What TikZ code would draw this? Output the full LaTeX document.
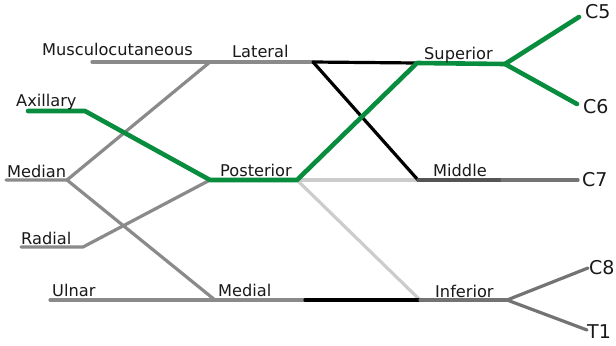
\documentclass[tikz,border=0pt]{standalone}
\usepackage{fontspec}
\setmainfont{DejaVu Sans}
\definecolor{nerve}{RGB}{138,138,138}
\definecolor{pale}{RGB}{204,204,204}
\definecolor{dk}{RGB}{85,85,85}
\definecolor{mid}{RGB}{115,115,115}
\definecolor{grn}{RGB}{8,140,62}
\definecolor{txt}{RGB}{25,25,25}
\begin{document}
\begin{tikzpicture}[x=1bp,y=-1bp,
  line cap=round, line join=round,
  gline/.style={draw=nerve, line width=3.2bp},
  pline/.style={draw=pale, line width=3.2bp},
  bline/.style={draw=black, line width=3.2bp},
  dline/.style={draw=dk, line width=3.2bp},
  mline/.style={draw=mid, line width=3.2bp},
  green/.style={draw=grn, line width=4.6bp},
  lbl/.style={anchor=base west, inner sep=0pt, text=txt, font=\fontsize{16.2bp}{19bp}\selectfont},
  root/.style={anchor=base west, inner sep=0pt, text=txt, font=\fontsize{19bp}{22bp}\selectfont}]
\useasboundingbox[fill=white] (0,0) rectangle (616,345);

% points
\coordinate (musc) at (92,62);
\coordinate (lat) at (210,62);
\coordinate (latE) at (313,62);
\coordinate (sup) at (417,63);
\coordinate (supE) at (505,64);
\coordinate (c5) at (579,17);
\coordinate (c6) at (577,104);
\coordinate (axS) at (28,111);
\coordinate (axB) at (85,111);
\coordinate (medS) at (6,180);
\coordinate (medB) at (67,180);
\coordinate (post) at (210,180);
\coordinate (postE) at (297,180);
\coordinate (midd) at (418,180);
\coordinate (middK) at (502,180);
\coordinate (c7) at (578,180);
\coordinate (radS) at (21,247);
\coordinate (radB) at (83,247);
\coordinate (ulS) at (50,300);
\coordinate (medl) at (215,300);
\coordinate (medlE) at (305,300);
\coordinate (inf) at (420,300);
\coordinate (infE) at (507,300);
\coordinate (c8) at (588,268);
\coordinate (t1) at (587,330);

% pale divisions
\draw[pline] (postE) -- (midd);
\draw[pline] (postE) -- (inf);

% gray nerves
\draw[gline] (musc) -- (latE);
\draw[gline] (lat) -- (medB);
\draw[gline] (medS) -- (medB) -- (medl);
\draw[gline] (radS) -- (radB) -- (post);
\draw[gline] (ulS) -- (medlE);

% black divisions
\draw[bline] (latE) -- (sup);
\draw[bline] (latE) -- (midd);
\draw[bline] (medlE) -- (inf);

% trunks
\draw[dline] (midd) -- (middK);
\draw[mline] (middK) -- (c7);
\draw[mline] (inf) -- (infE);
\draw[mline] (infE) -- (c8);
\draw[mline] (infE) -- (t1);

% green path
\draw[green] (axS) -- (axB) -- (post) -- (postE) -- (sup) -- (supE);
\draw[green] (supE) -- (c5);
\draw[green] (supE) -- (c6);

% labels
\node[lbl] (tMusc) at (42,55) {Musculocutaneous};
\node[lbl] (tLat) at (232,57) {Lateral};
\node[lbl] (tAx) at (16,106) {Axillary};
\node[lbl] (tMed) at (7,177) {Median};
\node[lbl] (tPost) at (220,176) {Posterior};
\node[lbl] (tRad) at (21,244) {Radial};
\node[lbl] (tUl) at (52,296) {Ulnar};
\node[lbl] (tMedl) at (218,296) {Medial};
\node[lbl] (tSup) at (424,59) {Superior};
\node[lbl] (tMid) at (433,176) {Middle};
\node[lbl] (tInf) at (435,297) {Inferior};
\node[root] (tC5) at (585,18) {C5};
\node[root] (tC6) at (583,113) {C6};
\node[root] (tC7) at (582,186) {C7};
\node[root] (tC8) at (589,274) {C8};
\node[root] (tT1) at (587,338) {T1};
\end{tikzpicture}
\end{document}
